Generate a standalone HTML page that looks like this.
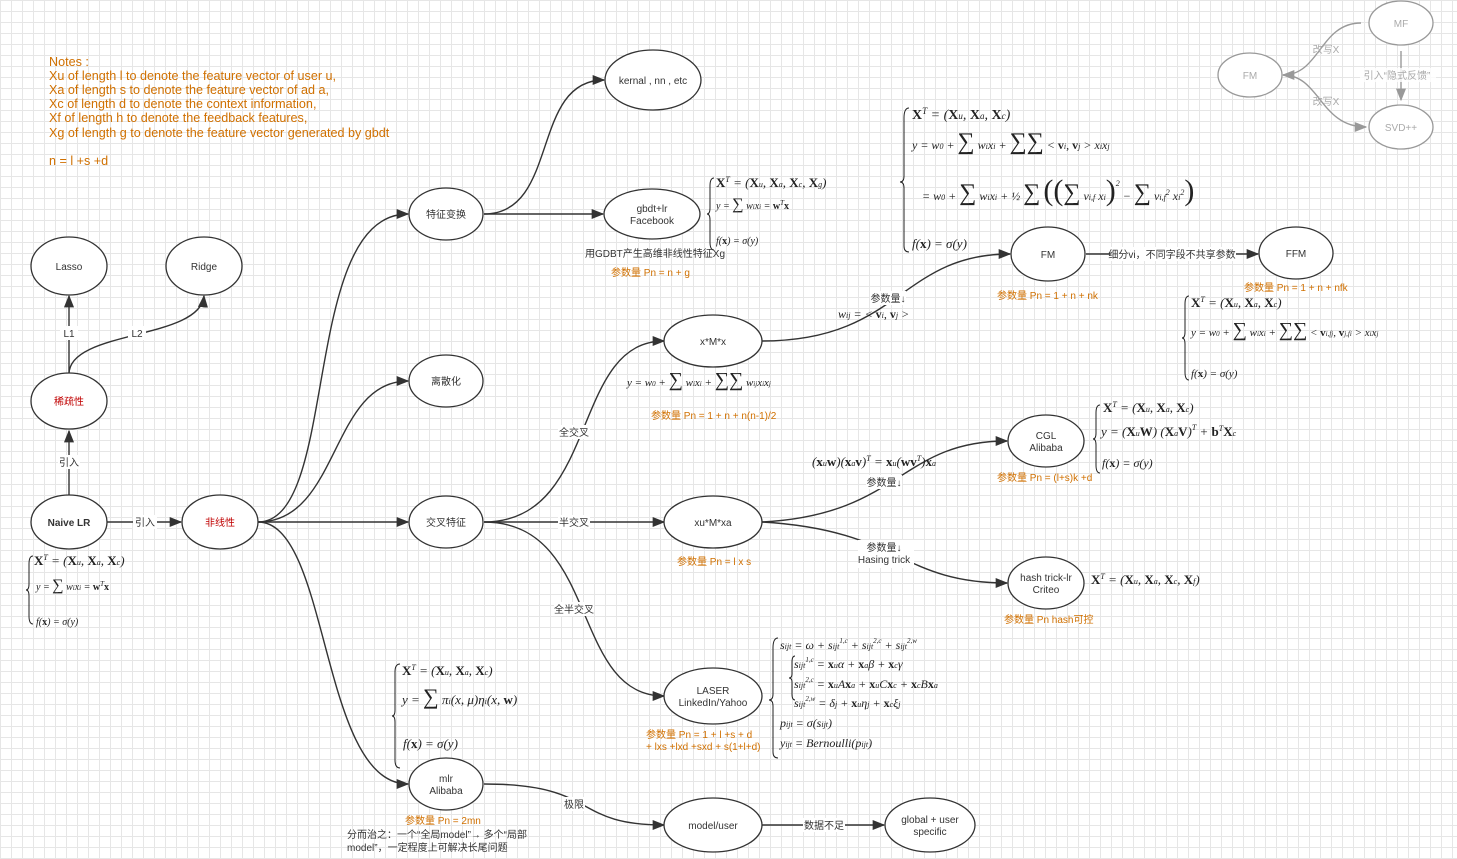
<!DOCTYPE html>
<html><head><meta charset="utf-8"><style>
html,body{margin:0;padding:0;}
body{width:1457px;height:859px;overflow:hidden;background:#fff;
background-image:linear-gradient(#e6e6e6 1px,transparent 1px),linear-gradient(90deg,#e6e6e6 1px,transparent 1px);background-size:11px 11px;}
svg{position:absolute;left:0;top:0;}
.n{font-family:"Liberation Sans","Noto Sans CJK SC",sans-serif;font-size:10px;fill:#333;text-anchor:middle;}
.o{font-family:"Liberation Sans","Noto Sans CJK SC",sans-serif;font-size:10px;fill:#d07000;}
.l{font-family:"Liberation Sans","Noto Sans CJK SC",sans-serif;font-size:10px;fill:#333;text-anchor:middle;}
.m{font-family:"Liberation Serif","DejaVu Serif",serif;font-size:12px;fill:#222;font-style:italic;}
.g{font-family:"Liberation Sans","Noto Sans CJK SC",sans-serif;font-size:10px;fill:#aaa;text-anchor:middle;stroke:none;}
ellipse{fill:#fff;stroke:#333;stroke-width:1.3;}
ellipse.ge{stroke:#999;}
path.c{fill:none;stroke:#333;stroke-width:1.4;}
path.gc{fill:none;stroke:#999;stroke-width:1.4;}
</style></head><body>
<svg width="1457" height="859" viewBox="0 0 1457 859">
<defs>
<marker id="a" viewBox="0 0 10 10" refX="9" refY="5" markerWidth="9" markerHeight="9" orient="auto"><path d="M0,1 L10,5 L0,9 z" fill="#333"/></marker>
<marker id="ga" viewBox="0 0 10 10" refX="9" refY="5" markerWidth="9" markerHeight="9" orient="auto"><path d="M0,1 L10,5 L0,9 z" fill="#999"/></marker>
</defs>
<g class="o" style="font-size:12.6px">
<text x="49" y="66">Notes :</text>
<text x="49" y="80">Xu of length l to denote the feature vector of user u,</text>
<text x="49" y="94">Xa of length s to denote the feature vector of ad a,</text>
<text x="49" y="108">Xc of length d to denote the context information,</text>
<text x="49" y="122">Xf of length h to denote the feedback features,</text>
<text x="49" y="137">Xg of length g to denote the feature vector generated by gbdt</text>
<text x="49" y="165">n = l +s +d</text>
</g>

<path class="c" d="M69,495 L69,431" marker-end="url(#a)"/>
<path class="c" d="M69,374 L69,296" marker-end="url(#a)"/>
<path class="c" d="M69,374 C69,330 200,340 204,296" marker-end="url(#a)"/>
<path class="c" d="M107,522 L181,522" marker-end="url(#a)"/>
<path class="c" d="M258,522 C340,522 300,214 408,214" marker-end="url(#a)"/>
<path class="c" d="M258,522 C340,522 330,381 408,381" marker-end="url(#a)"/>
<path class="c" d="M258,522 L408,522" marker-end="url(#a)"/>
<path class="c" d="M258,522 C330,522 320,784 408,784" marker-end="url(#a)"/>
<path class="c" d="M484,214 C560,214 530,80 604,80" marker-end="url(#a)"/>
<path class="c" d="M484,214 L603,214" marker-end="url(#a)"/>
<path class="c" d="M484,522 C600,522 570,341 664,341" marker-end="url(#a)"/>
<path class="c" d="M484,522 L664,522" marker-end="url(#a)"/>
<path class="c" d="M484,522 C600,522 570,696 664,696" marker-end="url(#a)"/>
<path class="c" d="M762,341 C900,341 900,254 1010,254" marker-end="url(#a)"/>
<path class="c" d="M1086,254 L1258,254" marker-end="url(#a)"/>
<path class="c" d="M762,522 C900,515 900,441 1007,441" marker-end="url(#a)"/>
<path class="c" d="M762,522 C900,530 900,583 1007,583" marker-end="url(#a)"/>
<path class="c" d="M484,784 C600,784 570,825 664,825" marker-end="url(#a)"/>
<path class="c" d="M762,825 L884,825" marker-end="url(#a)"/>
<path class="gc" d="M1361,23 C1320,23 1320,75 1283,75" marker-end="url(#ga)"/>
<path class="gc" d="M1283,75 C1320,75 1320,127 1366,127" marker-end="url(#ga)"/>
<path class="gc" d="M1401,51 L1401,100" marker-end="url(#ga)"/>

<g class="l">
<rect x="60" y="326" width="18" height="14" fill="#fff"/><text x="69" y="337">L1</text>
<rect x="128" y="326" width="18" height="14" fill="#fff"/><text x="137" y="337">L2</text>
<rect x="58" y="455" width="22" height="14" fill="#fff"/><text x="69" y="466">引入</text>
<rect x="133" y="515" width="24" height="14" fill="#fff"/><text x="145" y="526">引入</text>
<rect x="558" y="425" width="32" height="14" fill="#fff"/><text x="574" y="436">全交叉</text>
<rect x="558" y="515" width="32" height="14" fill="#fff"/><text x="574" y="526">半交叉</text>
<rect x="554" y="602" width="40" height="14" fill="#fff"/><text x="574" y="613">全半交叉</text>
<rect x="1110" y="247" width="126" height="14" fill="#fff"/><text x="1172" y="258">细分vi，不同字段不共享参数</text>
<rect x="870" y="291" width="36" height="14" fill="#fff"/><text x="888" y="302">参数量↓</text>
<rect x="866" y="475" width="36" height="14" fill="#fff"/><text x="884" y="486">参数量↓</text>
<rect x="858" y="540" width="56" height="28" fill="#fff"/><text x="884" y="551">参数量↓</text><text x="884" y="563">Hasing trick</text>
<rect x="563" y="797" width="22" height="14" fill="#fff"/><text x="574" y="808">极限</text>
<rect x="803" y="818" width="42" height="14" fill="#fff"/><text x="824" y="829">数据不足</text>
</g>
<g class="g">
<text x="1326" y="53">改写X</text>
<text x="1326" y="105">改写X</text>
<rect x="1360" y="68" width="76" height="14" fill="#fff" opacity=".8"/><text x="1397" y="79">引入“隐式反馈”</text>
</g>

<ellipse cx="69" cy="266" rx="38" ry="29"/><text class="n" x="69" y="270">Lasso</text>
<ellipse cx="204" cy="266" rx="38" ry="29"/><text class="n" x="204" y="270">Ridge</text>
<ellipse cx="69" cy="401" rx="38" ry="28"/><text class="n" x="69" y="405" style="fill:#c00000">稀疏性</text>
<ellipse cx="69" cy="522" rx="38" ry="27"/><text class="n" x="69" y="526" font-weight="bold">Naive LR</text>
<ellipse cx="220" cy="522" rx="38" ry="27"/><text class="n" x="220" y="526" style="fill:#c00000">非线性</text>
<ellipse cx="446" cy="214" rx="37" ry="26"/><text class="n" x="446" y="218">特征变换</text>
<ellipse cx="446" cy="381" rx="37" ry="26"/><text class="n" x="446" y="385">离散化</text>
<ellipse cx="446" cy="522" rx="37" ry="26"/><text class="n" x="446" y="526">交叉特征</text>
<ellipse cx="653" cy="80" rx="48" ry="30"/><text class="n" x="653" y="84">kernal , nn , etc</text>
<ellipse cx="652" cy="214" rx="48" ry="25"/><text class="n" x="652" y="212">gbdt+lr</text><text class="n" x="652" y="224">Facebook</text>
<ellipse cx="713" cy="341" rx="49" ry="26"/><text class="n" x="713" y="345">x*M*x</text>
<ellipse cx="713" cy="522" rx="49" ry="26"/><text class="n" x="713" y="526">xu*M*xa</text>
<ellipse cx="713" cy="696" rx="49" ry="28"/><text class="n" x="713" y="694">LASER</text><text class="n" x="713" y="706">LinkedIn/Yahoo</text>
<ellipse cx="446" cy="784" rx="37" ry="26"/><text class="n" x="446" y="782">mlr</text><text class="n" x="446" y="794">Alibaba</text>
<ellipse cx="713" cy="825" rx="49" ry="27"/><text class="n" x="713" y="829">model/user</text>
<ellipse cx="930" cy="825" rx="45" ry="27"/><text class="n" x="930" y="823">global + user</text><text class="n" x="930" y="835">specific</text>
<ellipse cx="1048" cy="254" rx="37" ry="27"/><text class="n" x="1048" y="258">FM</text>
<ellipse cx="1296" cy="253" rx="37" ry="26"/><text class="n" x="1296" y="257">FFM</text>
<ellipse cx="1046" cy="441" rx="38" ry="26"/><text class="n" x="1046" y="439">CGL</text><text class="n" x="1046" y="451">Alibaba</text>
<ellipse cx="1046" cy="583" rx="38" ry="26"/><text class="n" x="1046" y="581">hash trick-lr</text><text class="n" x="1046" y="593">Criteo</text>
<ellipse class="ge" cx="1250" cy="75" rx="32" ry="22"/><text class="g" x="1250" y="79">FM</text>
<ellipse class="ge" cx="1401" cy="23" rx="32" ry="22"/><text class="g" x="1401" y="27">MF</text>
<ellipse class="ge" cx="1401" cy="127" rx="32" ry="22"/><text class="g" x="1401" y="131">SVD++</text>

<g class="o">
<text x="611" y="276">参数量 Pn = n + g</text>
<text x="651" y="419">参数量 Pn = 1 + n + n(n-1)/2</text>
<text x="677" y="565">参数量 Pn = l x s</text>
<text x="646" y="738">参数量 Pn = 1 + l +s + d</text>
<text x="646" y="750">+ lxs +lxd +sxd + s(1+l+d)</text>
<text x="405" y="824">参数量 Pn = 2mn</text>
<text x="997" y="299">参数量 Pn = 1 + n + nk</text>
<text x="1244" y="291">参数量 Pn = 1 + n + nfk</text>
<text x="997" y="481">参数量 Pn = (l+s)k +d</text>
<text x="1004" y="623">参数量 Pn hash可控</text>
</g>
<g class="n" style="text-anchor:start">
<text x="585" y="257">用GDBT产生高维非线性特征Xg</text>
<text x="347" y="838">分而治之：一个“全局model”→ 多个“局部</text>
<text x="347" y="851">model”，一定程度上可解决长尾问题</text>
</g>

<g class="m" stroke="none">
<path d="M33,556 q-4,0 -4,8 v20 q0,6 -3,6 q3,0 3,6 v20 q0,8 4,8" fill="none" stroke="#222"/>
<text x="34" y="565" font-size="13"><tspan font-weight="bold" font-style="normal">X</tspan><tspan font-size="8" dy="-5">T</tspan><tspan dy="5"> = (</tspan><tspan font-weight="bold" font-style="normal">X</tspan><tspan font-size="8">u</tspan>, <tspan font-weight="bold" font-style="normal">X</tspan><tspan font-size="8">a</tspan>, <tspan font-weight="bold" font-style="normal">X</tspan><tspan font-size="8">c</tspan>)</text>
<text x="36" y="590" font-size="10">y = <tspan font-size="16" font-style="normal">∑</tspan> w<tspan font-size="7">i</tspan>x<tspan font-size="7">i</tspan> = <tspan font-weight="bold" font-style="normal">w</tspan><tspan font-size="7" dy="-4">T</tspan><tspan dy="4" font-weight="bold" font-style="normal">x</tspan></text>
<text x="36" y="625" font-size="10">f(<tspan font-weight="bold" font-style="normal">x</tspan>) = σ(y)</text>

<path d="M714,178 q-4,0 -4,8 v22 q0,6 -3,6 q3,0 3,6 v22 q0,8 4,8" fill="none" stroke="#222"/>
<text x="716" y="187" font-size="13"><tspan font-weight="bold" font-style="normal">X</tspan><tspan font-size="8" dy="-5">T</tspan><tspan dy="5"> = (</tspan><tspan font-weight="bold" font-style="normal">X</tspan><tspan font-size="8">u</tspan>, <tspan font-weight="bold" font-style="normal">X</tspan><tspan font-size="8">a</tspan>, <tspan font-weight="bold" font-style="normal">X</tspan><tspan font-size="8">c</tspan>, <tspan font-weight="bold" font-style="normal">X</tspan><tspan font-size="8">g</tspan>)</text>
<text x="716" y="209" font-size="10">y = <tspan font-size="16" font-style="normal">∑</tspan> w<tspan font-size="7">i</tspan>x<tspan font-size="7">i</tspan> = <tspan font-weight="bold" font-style="normal">w</tspan><tspan font-size="7" dy="-4">T</tspan><tspan dy="4" font-weight="bold" font-style="normal">x</tspan></text>
<text x="716" y="244" font-size="10">f(<tspan font-weight="bold" font-style="normal">x</tspan>) = σ(y)</text>

<text x="627" y="386" font-size="11">y = w<tspan font-size="7">0</tspan> + <tspan font-size="20" font-style="normal">∑</tspan> w<tspan font-size="7">i</tspan>x<tspan font-size="7">i</tspan> + <tspan font-size="20" font-style="normal">∑∑</tspan> w<tspan font-size="7">ij</tspan>x<tspan font-size="7">i</tspan>x<tspan font-size="7">j</tspan></text>
<text x="838" y="318" font-size="12">w<tspan font-size="8">ij</tspan> = &lt; <tspan font-weight="bold" font-style="normal">v</tspan><tspan font-size="8">i</tspan>, <tspan font-weight="bold" font-style="normal">v</tspan><tspan font-size="8">j</tspan> &gt;</text>

<path d="M909,108 q-5,0 -5,10 v58 q0,6 -4,6 q4,0 4,6 v58 q0,6 5,6" fill="none" stroke="#222"/>
<text x="912" y="119" font-size="14"><tspan font-weight="bold" font-style="normal">X</tspan><tspan font-size="9" dy="-5">T</tspan><tspan dy="5"> = (</tspan><tspan font-weight="bold" font-style="normal">X</tspan><tspan font-size="9">u</tspan>, <tspan font-weight="bold" font-style="normal">X</tspan><tspan font-size="9">a</tspan>, <tspan font-weight="bold" font-style="normal">X</tspan><tspan font-size="9">c</tspan>)</text>
<text x="912" y="149" font-size="12">y = w<tspan font-size="8">0</tspan> + <tspan font-size="24" font-style="normal">∑</tspan> w<tspan font-size="8">i</tspan>x<tspan font-size="8">i</tspan> + <tspan font-size="24" font-style="normal">∑∑</tspan> &lt; <tspan font-weight="bold" font-style="normal">v</tspan><tspan font-size="8">i</tspan>, <tspan font-weight="bold" font-style="normal">v</tspan><tspan font-size="8">j</tspan> &gt; x<tspan font-size="8">i</tspan>x<tspan font-size="8">j</tspan></text>
<text x="922" y="200" font-size="12">= w<tspan font-size="8">0</tspan> + <tspan font-size="24" font-style="normal">∑</tspan> w<tspan font-size="8">i</tspan>x<tspan font-size="8">i</tspan> + ½ <tspan font-size="24" font-style="normal">∑</tspan> <tspan font-size="30" font-style="normal">((</tspan><tspan font-size="24" font-style="normal">∑</tspan> v<tspan font-size="8">i,f</tspan> x<tspan font-size="8">i</tspan><tspan font-size="30" font-style="normal">)</tspan><tspan font-size="8" dy="-14">2</tspan><tspan dy="14"> − </tspan><tspan font-size="24" font-style="normal">∑</tspan> v<tspan font-size="8">i,f</tspan><tspan font-size="8" dy="-5">2</tspan><tspan dy="5"> x</tspan><tspan font-size="8">i</tspan><tspan font-size="8" dy="-5">2</tspan><tspan font-size="30" font-style="normal" dy="5">)</tspan></text>
<text x="912" y="248" font-size="13">f(<tspan font-weight="bold" font-style="normal">x</tspan>) = σ(y)</text>

<path d="M1189,296 q-4,0 -4,8 v28 q0,6 -3,6 q3,0 3,6 v28 q0,8 4,8" fill="none" stroke="#222"/>
<text x="1191" y="307" font-size="13"><tspan font-weight="bold" font-style="normal">X</tspan><tspan font-size="8" dy="-5">T</tspan><tspan dy="5"> = (</tspan><tspan font-weight="bold" font-style="normal">X</tspan><tspan font-size="8">u</tspan>, <tspan font-weight="bold" font-style="normal">X</tspan><tspan font-size="8">a</tspan>, <tspan font-weight="bold" font-style="normal">X</tspan><tspan font-size="8">c</tspan>)</text>
<text x="1191" y="336" font-size="11">y = w<tspan font-size="7">0</tspan> + <tspan font-size="20" font-style="normal">∑</tspan> w<tspan font-size="7">i</tspan>x<tspan font-size="7">i</tspan> + <tspan font-size="20" font-style="normal">∑∑</tspan>  &lt; <tspan font-weight="bold" font-style="normal">v</tspan><tspan font-size="7">i,fj</tspan>, <tspan font-weight="bold" font-style="normal">v</tspan><tspan font-size="7">j,fi</tspan> &gt; x<tspan font-size="7">i</tspan>x<tspan font-size="7">j</tspan></text>
<text x="1191" y="377" font-size="11">f(<tspan font-weight="bold" font-style="normal">x</tspan>) = σ(y)</text>

<path d="M1100,405 q-4,0 -4,8 v20 q0,6 -3,6 q3,0 3,6 v20 q0,8 4,8" fill="none" stroke="#222"/>
<text x="1103" y="412" font-size="13"><tspan font-weight="bold" font-style="normal">X</tspan><tspan font-size="8" dy="-5">T</tspan><tspan dy="5"> = (</tspan><tspan font-weight="bold" font-style="normal">X</tspan><tspan font-size="8">u</tspan>, <tspan font-weight="bold" font-style="normal">X</tspan><tspan font-size="8">a</tspan>, <tspan font-weight="bold" font-style="normal">X</tspan><tspan font-size="8">c</tspan>)</text>
<text x="1101" y="436" font-size="13">y = (<tspan font-weight="bold" font-style="normal">X</tspan><tspan font-size="8">u</tspan><tspan font-weight="bold" font-style="normal">W</tspan>) (<tspan font-weight="bold" font-style="normal">X</tspan><tspan font-size="8">a</tspan><tspan font-weight="bold" font-style="normal">V</tspan>)<tspan font-size="8" dy="-6">T</tspan><tspan dy="6"> + </tspan><tspan font-weight="bold" font-style="normal">b</tspan><tspan font-size="8" dy="-5">T</tspan><tspan dy="5" font-weight="bold" font-style="normal">X</tspan><tspan font-size="8">c</tspan></text>
<text x="1102" y="467" font-size="12">f(<tspan font-weight="bold" font-style="normal">x</tspan>) = σ(y)</text>
<text x="812" y="466" font-size="13">(<tspan font-weight="bold" font-style="normal">x</tspan><tspan font-size="8">u</tspan><tspan font-weight="bold" font-style="normal">w</tspan>)(<tspan font-weight="bold" font-style="normal">x</tspan><tspan font-size="8">a</tspan><tspan font-weight="bold" font-style="normal">v</tspan>)<tspan font-size="8" dy="-5">T</tspan><tspan dy="5"> = </tspan><tspan font-weight="bold" font-style="normal">x</tspan><tspan font-size="8">u</tspan>(<tspan font-weight="bold" font-style="normal">wv</tspan><tspan font-size="8" dy="-5">T</tspan><tspan dy="5">)</tspan><tspan font-weight="bold" font-style="normal">x</tspan><tspan font-size="8">a</tspan></text>

<text x="1091" y="584" font-size="13"><tspan font-weight="bold" font-style="normal">X</tspan><tspan font-size="8" dy="-5">T</tspan><tspan dy="5"> = (</tspan><tspan font-weight="bold" font-style="normal">X</tspan><tspan font-size="8">u</tspan>, <tspan font-weight="bold" font-style="normal">X</tspan><tspan font-size="8">a</tspan>, <tspan font-weight="bold" font-style="normal">X</tspan><tspan font-size="8">c</tspan>, <tspan font-weight="bold" font-style="normal">X</tspan><tspan font-size="8">f</tspan>)</text>

<path d="M400,664 q-5,0 -5,8 v38 q0,6 -3,6 q3,0 3,6 v38 q0,8 5,8" fill="none" stroke="#222"/>
<text x="402" y="675" font-size="13"><tspan font-weight="bold" font-style="normal">X</tspan><tspan font-size="8" dy="-5">T</tspan><tspan dy="5"> = (</tspan><tspan font-weight="bold" font-style="normal">X</tspan><tspan font-size="8">u</tspan>, <tspan font-weight="bold" font-style="normal">X</tspan><tspan font-size="8">a</tspan>, <tspan font-weight="bold" font-style="normal">X</tspan><tspan font-size="8">c</tspan>)</text>
<text x="402" y="704" font-size="13">y = <tspan font-size="22" font-style="normal">∑</tspan> π<tspan font-size="8">i</tspan>(x, μ)η<tspan font-size="8">i</tspan>(x, <tspan font-weight="bold" font-style="normal">w</tspan>)</text>
<text x="403" y="748" font-size="13">f(<tspan font-weight="bold" font-style="normal">x</tspan>) = σ(y)</text>

<path d="M778,638 q-5,0 -5,10 v46 q0,6 -4,6 q4,0 4,6 v46 q0,6 5,6" fill="none" stroke="#222"/>
<path d="M795,656 q-3,0 -3,6 v12 q0,4 -3,4 q3,0 3,4 v12 q0,6 3,6" fill="none" stroke="#222"/>
<text x="780" y="649" font-size="12">s<tspan font-size="8">ijt</tspan> = ω + s<tspan font-size="8">ijt</tspan><tspan font-size="7" dy="-6">1,c</tspan><tspan dy="6"> + s</tspan><tspan font-size="8">ijt</tspan><tspan font-size="7" dy="-6">2,c</tspan><tspan dy="6"> + s</tspan><tspan font-size="8">ijt</tspan><tspan font-size="7" dy="-6">2,w</tspan></text>
<text x="794" y="668" font-size="12">s<tspan font-size="8">ijt</tspan><tspan font-size="7" dy="-6">1,c</tspan><tspan dy="6"> = </tspan><tspan font-weight="bold" font-style="normal">x</tspan><tspan font-size="8">u</tspan>α + <tspan font-weight="bold" font-style="normal">x</tspan><tspan font-size="8">a</tspan>β + <tspan font-weight="bold" font-style="normal">x</tspan><tspan font-size="8">c</tspan>γ</text>
<text x="794" y="688" font-size="12">s<tspan font-size="8">ijt</tspan><tspan font-size="7" dy="-6">2,c</tspan><tspan dy="6"> = </tspan><tspan font-weight="bold" font-style="normal">x</tspan><tspan font-size="8">u</tspan>A<tspan font-weight="bold" font-style="normal">x</tspan><tspan font-size="8">a</tspan> + <tspan font-weight="bold" font-style="normal">x</tspan><tspan font-size="8">u</tspan>C<tspan font-weight="bold" font-style="normal">x</tspan><tspan font-size="8">c</tspan> + <tspan font-weight="bold" font-style="normal">x</tspan><tspan font-size="8">c</tspan>B<tspan font-weight="bold" font-style="normal">x</tspan><tspan font-size="8">a</tspan></text>
<text x="794" y="707" font-size="12">s<tspan font-size="8">ijt</tspan><tspan font-size="7" dy="-6">2,w</tspan><tspan dy="6"> = δ</tspan><tspan font-size="8">j</tspan> + <tspan font-weight="bold" font-style="normal">x</tspan><tspan font-size="8">u</tspan>η<tspan font-size="8">j</tspan> + <tspan font-weight="bold" font-style="normal">x</tspan><tspan font-size="8">c</tspan>ξ<tspan font-size="8">j</tspan></text>
<text x="780" y="727" font-size="12">p<tspan font-size="8">ijt</tspan> = σ(s<tspan font-size="8">ijt</tspan>)</text>
<text x="780" y="747" font-size="12">y<tspan font-size="8">ijt</tspan> = Bernoulli(p<tspan font-size="8">ijt</tspan>)</text>
</g>
</svg>
</body></html>
